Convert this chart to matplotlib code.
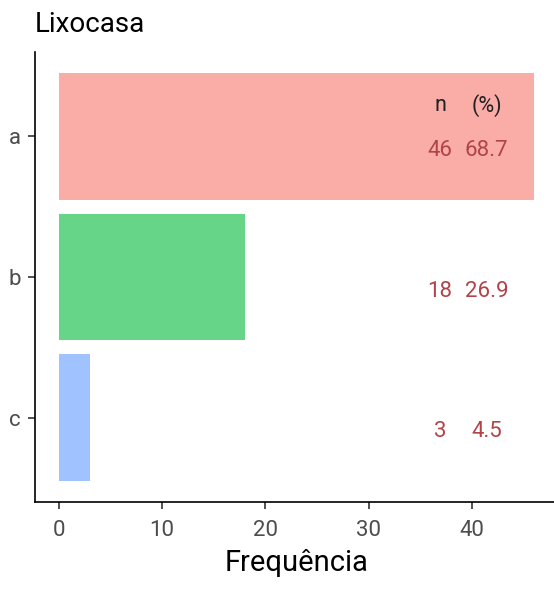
import matplotlib.pyplot as plt

# data
categories = ['a', 'b', 'c']
counts = [46, 18, 3]
percents = [68.7, 26.9, 4.5]
bar_colors = ['#F8766D', '#00BA38', '#619CFF']
x_ticks = [0, 10, 20, 30, 40]

plt.rcParams['font.family'] = ['Roboto', 'DejaVu Sans']

fig = plt.figure(figsize=(5.54, 5.89), dpi=100)
ax = fig.add_axes([35 / 554, 1 - 502 / 589, 523 / 554, 450 / 589])

# categories from top to bottom: a, b, c
ypos = [len(categories) - i for i in range(len(categories))]
ax.barh(ypos, counts, height=0.9, color=bar_colors, alpha=0.6, linewidth=0)

# n / (%) table on the right
n_x, pct_x = 36.9, 41.4
ax.text(n_x, ypos[0] + 0.22, 'n', ha='center', va='center', fontsize=15.5, color='#222222')
ax.text(pct_x, ypos[0] + 0.22, '(%)', ha='center', va='center', fontsize=15.5, color='#222222')
for y, n, p in zip(ypos, counts, percents):
    ax.text(n_x, y - 0.1, str(n), ha='center', va='center', fontsize=16, color='#B0444A')
    ax.text(pct_x, y - 0.1, f'{p:.1f}', ha='center', va='center', fontsize=16, color='#B0444A')

ax.set_xlim(-0.05 * max(counts), 1.05 * max(counts))
ax.set_ylim(0.4, len(categories) + 0.6)
ax.set_xticks(x_ticks)
ax.set_yticks(ypos)
ax.set_yticklabels(categories)

for side in ['top', 'right']:
    ax.spines[side].set_visible(False)
for side in ['left', 'bottom']:
    ax.spines[side].set_linewidth(1.2)
    ax.spines[side].set_color('black')

ax.tick_params(axis='both', length=5, width=1.2, color='#333333',
               labelsize=16, labelcolor='#4D4D4D')
ax.tick_params(axis='x', pad=8)
ax.tick_params(axis='y', pad=5)

ax.set_xlabel('Frequência', fontsize=21, color='black', labelpad=6)
fig.text(35 / 554, 1 - 32 / 589, 'Lixocasa', fontsize=20, color='black',
         ha='left', va='baseline')

plt.savefig('out.png', dpi=100)
